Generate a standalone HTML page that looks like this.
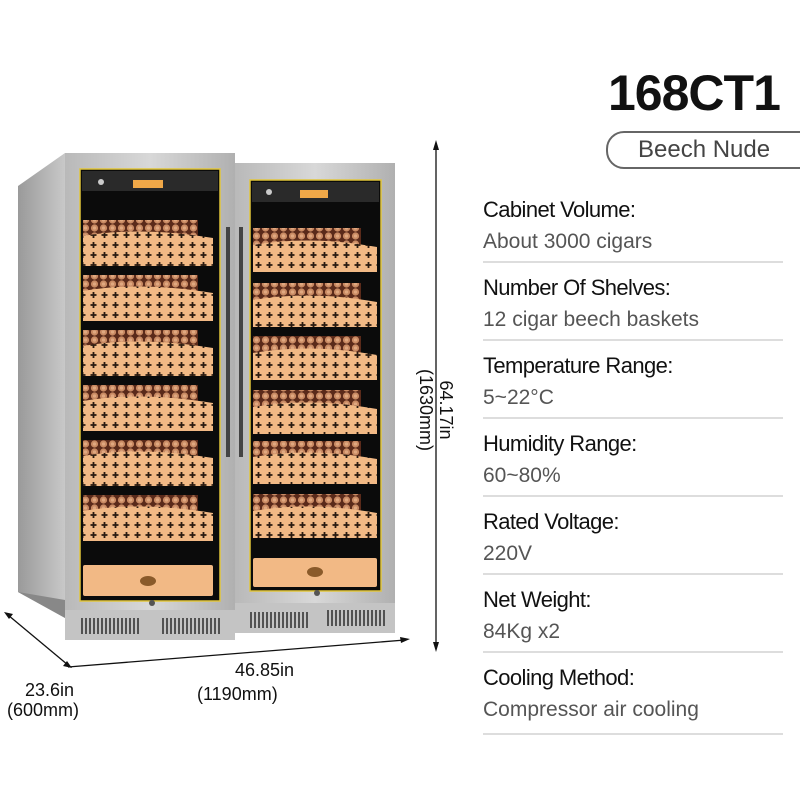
<!DOCTYPE html>
<html><head><meta charset="utf-8"><style>
html,body{margin:0;padding:0;background:#fff;}
body{width:800px;height:800px;position:relative;overflow:hidden;font-family:"Liberation Sans",sans-serif;}
.t{position:absolute;white-space:nowrap;}
.lab{position:absolute;left:483px;font-size:22px;color:#111;letter-spacing:-0.6px;}
.val{position:absolute;left:483px;font-size:21px;color:#555;}
.sep{position:absolute;left:483px;width:300px;height:2px;background:#ddd;}
</style></head><body>
<svg width="800" height="800" style="position:absolute;left:0;top:0">
<defs>
<pattern id="cig" x="0" y="0" width="9" height="8" patternUnits="userSpaceOnUse">
<rect width="9" height="8" fill="#5a2a1a"/><circle cx="4.5" cy="4" r="3.6" fill="#c98a63"/><circle cx="4.5" cy="4" r="1.6" fill="#e0a880"/>
</pattern>
<pattern id="crs" x="0" y="0" width="11" height="10" patternUnits="userSpaceOnUse">
<rect width="11" height="10" fill="#f2b985"/><path d="M5.5 2v6M2.5 5h6" stroke="#2a1a10" stroke-width="1.8"/>
</pattern>
<linearGradient id="side" x1="0" x2="1"><stop offset="0" stop-color="#9a9a9a"/><stop offset="1" stop-color="#c8c8c8"/></linearGradient>
<linearGradient id="frame" x1="0" x2="1"><stop offset="0" stop-color="#b9b9b9"/><stop offset=".5" stop-color="#d8d8d8"/><stop offset="1" stop-color="#b0b0b0"/></linearGradient>
</defs>
<!-- side -->
<polygon points="18,186 65,153 65,618 18,592" fill="url(#side)"/>
<!-- base -->
<polygon points="18,592 65,618 395,605 395,590 65,600" fill="#888"/>
<rect x="65" y="610" width="170" height="30" fill="#c4c4c4"/>
<rect x="235" y="603" width="160" height="30" fill="#c4c4c4"/>
<g stroke="#222" stroke-width="1.4">
<path d="M82 618v16M86 618v16M90 618v16M94 618v16M98 618v16M102 618v16M106 618v16M110 618v16M114 618v16M118 618v16M122 618v16M126 618v16M130 618v16M134 618v16M138 618v16"/>
<path d="M163 618v16M167 618v16M171 618v16M175 618v16M179 618v16M183 618v16M187 618v16M191 618v16M195 618v16M199 618v16M203 618v16M207 618v16M211 618v16M215 618v16M219 618v16"/>
<path d="M251 612v16M255 612v16M259 612v16M263 612v16M267 612v16M271 612v16M275 612v16M279 612v16M283 612v16M287 612v16M291 612v16M295 612v16M299 612v16M303 612v16M307 612v16"/>
<path d="M328 610v16M332 610v16M336 610v16M340 610v16M344 610v16M348 610v16M352 610v16M356 610v16M360 610v16M364 610v16M368 610v16M372 610v16M376 610v16M380 610v16M384 610v16"/>
</g>
<!-- doors -->
<rect x="65" y="153" width="170" height="457" fill="url(#frame)"/>
<rect x="235" y="163" width="160" height="440" fill="url(#frame)"/>
<rect x="80" y="169" width="140" height="432" fill="#0b0b0b" stroke="#e2c63a" stroke-width="1.5"/>
<rect x="250" y="180" width="131" height="411" fill="#0b0b0b" stroke="#e2c63a" stroke-width="1.5"/>
<rect x="82" y="171" width="136" height="20" fill="#2a2a2a"/>
<rect x="252" y="182" width="127" height="20" fill="#2a2a2a"/>
<rect x="133" y="180" width="30" height="8" fill="#f0a848"/>
<rect x="300" y="190" width="28" height="8" fill="#f0a848"/>
<circle cx="101" cy="182" r="3" fill="#ccc"/><circle cx="269" cy="192" r="3" fill="#ccc"/>
<!-- handles -->
<rect x="226" y="227" width="4" height="230" fill="#444"/><rect x="239" y="227" width="4" height="230" fill="#444"/>
<!-- left shelves -->
<g>
<rect x="83" y="220" width="115" height="20" fill="url(#cig)"/><path d="M83 236 Q140 226 213 238 V266 H83Z" fill="url(#crs)"/>
<rect x="83" y="275" width="115" height="20" fill="url(#cig)"/><path d="M83 291 Q140 281 213 293 V321 H83Z" fill="url(#crs)"/>
<rect x="83" y="330" width="115" height="20" fill="url(#cig)"/><path d="M83 346 Q140 336 213 348 V376 H83Z" fill="url(#crs)"/>
<rect x="83" y="385" width="115" height="20" fill="url(#cig)"/><path d="M83 401 Q140 391 213 403 V431 H83Z" fill="url(#crs)"/>
<rect x="83" y="440" width="115" height="20" fill="url(#cig)"/><path d="M83 456 Q140 446 213 458 V486 H83Z" fill="url(#crs)"/>
<rect x="83" y="495" width="115" height="20" fill="url(#cig)"/><path d="M83 511 Q140 501 213 513 V541 H83Z" fill="url(#crs)"/>
<rect x="83" y="565" width="130" height="31" rx="2" fill="#f2b985"/>
<ellipse cx="148" cy="581" rx="8" ry="5" fill="#8a5a2a"/>
</g>
<g>
<rect x="253" y="228" width="108" height="20" fill="url(#cig)"/><path d="M253 245 Q310 235 377 247 V272 H253Z" fill="url(#crs)"/>
<rect x="253" y="283" width="108" height="20" fill="url(#cig)"/><path d="M253 300 Q310 290 377 302 V327 H253Z" fill="url(#crs)"/>
<rect x="253" y="336" width="108" height="20" fill="url(#cig)"/><path d="M253 353 Q310 343 377 355 V380 H253Z" fill="url(#crs)"/>
<rect x="253" y="390" width="108" height="20" fill="url(#cig)"/><path d="M253 407 Q310 397 377 409 V434 H253Z" fill="url(#crs)"/>
<rect x="253" y="441" width="108" height="20" fill="url(#cig)"/><path d="M253 457 Q310 447 377 459 V484 H253Z" fill="url(#crs)"/>
<rect x="253" y="494" width="108" height="20" fill="url(#cig)"/><path d="M253 511 Q310 501 377 513 V538 H253Z" fill="url(#crs)"/>
<rect x="253" y="558" width="124" height="29" rx="2" fill="#f2b985"/>
<ellipse cx="315" cy="572" rx="8" ry="5" fill="#8a5a2a"/>
</g>
<circle cx="152" cy="603" r="3" fill="#555"/><circle cx="317" cy="593" r="3" fill="#555"/>
<!-- dimension lines -->
<g stroke="#111" stroke-width="1.3" fill="#111">
<line x1="436" y1="145" x2="436" y2="648"/>
<polygon points="436,140 433,150 439,150" stroke="none"/><polygon points="436,652 433,642 439,642" stroke="none"/>
<line x1="8" y1="615" x2="68" y2="665"/>
<polygon points="4,612 13,614 9,619" stroke="none"/><polygon points="72,668 63,666 67,661" stroke="none"/>
<line x1="68" y1="667" x2="405" y2="640"/>
<polygon points="410,639 400,637 401,643" stroke="none"/>
</g>
</svg>
<div class="t" style="left:235px;top:660px;font-size:18px;color:#111;">46.85in</div>
<div class="t" style="left:197px;top:684px;font-size:18px;color:#111;">(1190mm)</div>
<div class="t" style="left:25px;top:680px;font-size:18px;color:#111;">23.6in</div>
<div class="t" style="left:7px;top:700px;font-size:18px;color:#111;">(600mm)</div>
<div class="t" style="left:368px;top:390px;width:136px;text-align:center;font-size:18px;line-height:20px;color:#111;transform:rotate(90deg);">64.17in<br>(1630mm)</div>
<div class="t" style="left:608px;top:64px;font-size:50px;font-weight:bold;color:#111;letter-spacing:-1px;">168CT1</div>
<div style="position:absolute;left:606px;top:131px;width:200px;height:34px;border:2px solid #666;border-radius:18px 0 0 18px;"></div>
<div class="t" style="left:638px;top:136px;font-size:24px;color:#444;">Beech Nude</div>
<div class="lab" style="top:197px">Cabinet Volume:</div><div class="val" style="top:230px">About 3000 cigars</div><div class="sep" style="top:261px"></div>
<div class="lab" style="top:275px">Number Of Shelves:</div><div class="val" style="top:308px">12 cigar beech baskets</div><div class="sep" style="top:339px"></div>
<div class="lab" style="top:353px">Temperature Range:</div><div class="val" style="top:386px">5~22°C</div><div class="sep" style="top:417px"></div>
<div class="lab" style="top:431px">Humidity Range:</div><div class="val" style="top:464px">60~80%</div><div class="sep" style="top:495px"></div>
<div class="lab" style="top:509px">Rated Voltage:</div><div class="val" style="top:542px">220V</div><div class="sep" style="top:573px"></div>
<div class="lab" style="top:587px">Net Weight:</div><div class="val" style="top:620px">84Kg x2</div><div class="sep" style="top:651px"></div>
<div class="lab" style="top:665px">Cooling Method:</div><div class="val" style="top:698px">Compressor air cooling</div><div class="sep" style="top:733px"></div>
</body></html>
